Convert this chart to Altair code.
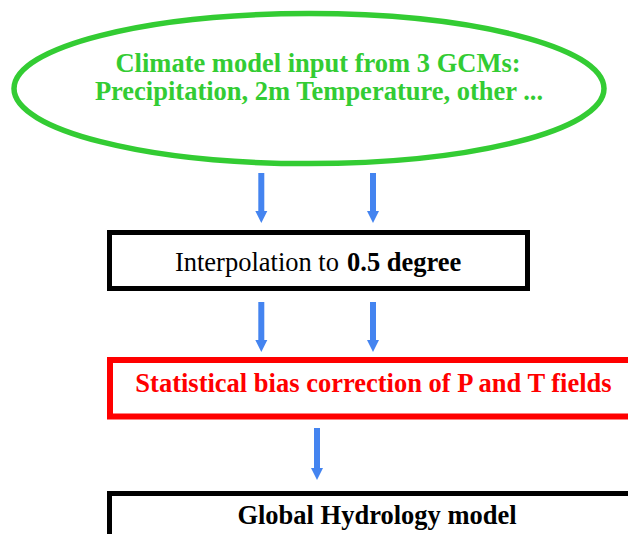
import altair as alt
import pandas as pd

# ---- canvas (page coordinates, the chart starts at the 8px page margin) ----
W, H = 620, 526
X0, Y0 = 8, 8

# ---- ellipse (input node) ----
ell_cx = [309]
ell_cy = [88.6]
ell_w = 590          # full width of the ellipse (centre line)
ell_ry_ratio = 0.2542  # ry / rx
ell_color = "#33CC33"

title_lines = ["Climate model input from 3 GCMs:", "Precipitation, 2m Temperature, other ..."]
title_x = [318, 319]
title_y = [72, 100]

# ---- boxes ----
box_x1 = [109.5, 110, 109.5]
box_x2 = [527.5, 680, 680]
box_y1 = [232.5, 360, 493.5]
box_y2 = [288.5, 416.5, 640]
box_color = ["black", "#FF0000", "black"]
box_sw = [5, 6, 5]

# ---- box texts ----
txt_plain = ["Interpolation to"]
txt_plain_x = [339]
txt_plain_y = [271]
txt_bold = ["0.5 degree", "Statistical bias correction of P and T fields", "Global Hydrology model"]
txt_bold_x = [347, 373.5, 377]
txt_bold_y = [271, 391.5, 524]
txt_bold_align = ["left", "center", "center"]
txt_bold_color = ["black", "#FF0000", "black"]

# ---- arrows ----
arrow_x = [261.3, 373, 261.3, 373, 317]
arrow_top = [173, 173, 302, 302, 428]
arrow_tip = [223, 223, 352, 352, 480]
arrow_color = "#4484F0"
head_len = 12

FONT = "Liberation Serif"
FS = 26.5

xs = alt.Scale(domain=[X0, X0 + W], range=[0, W])
ys = alt.Scale(domain=[Y0, Y0 + H], range=[0, H])


def X(f):
    return alt.X(f, type="quantitative", scale=xs, axis=None)


def Y(f):
    return alt.Y(f, type="quantitative", scale=ys, axis=None)


ell_df = pd.DataFrame({"x": ell_cx, "y": ell_cy})
k = 0.5523
r = ell_ry_ratio
kr = k * r
ell_path = (
    f"M-1,0 C-1,{-kr:.4f} {-k},{-r:.4f} 0,{-r:.4f} "
    f"C{k},{-r:.4f} 1,{-kr:.4f} 1,0 "
    f"C1,{kr:.4f} {k},{r:.4f} 0,{r:.4f} "
    f"C{-k},{r:.4f} -1,{kr:.4f} -1,0 Z"
)
ellipse = alt.Chart(ell_df).mark_point(
    shape=ell_path, size=ell_w ** 2, filled=False, stroke=ell_color,
    strokeWidth=5.5, opacity=1
).encode(x=X("x"), y=Y("y"))

title_df = pd.DataFrame({"t": title_lines, "x": title_x, "y": title_y})
title = alt.Chart(title_df).mark_text(
    font=FONT, fontSize=FS, fontWeight="bold", color=ell_color,
    align="center", baseline="alphabetic"
).encode(x=X("x"), y=Y("y"), text="t:N")

box_df = pd.DataFrame({"x1": box_x1, "x2": box_x2, "y1": box_y1, "y2": box_y2,
                       "c": box_color, "sw": box_sw})
boxes = alt.Chart(box_df).mark_rect(fill="white", clip=True).encode(
    x=X("x1"), x2="x2", y=Y("y1"), y2="y2",
    stroke=alt.Color("c:N", scale=None),
    strokeWidth=alt.StrokeWidth("sw:Q", scale=None),
)

plain_df = pd.DataFrame({"t": txt_plain, "x": txt_plain_x, "y": txt_plain_y})
plain = alt.Chart(plain_df).mark_text(
    font=FONT, fontSize=FS, fontWeight="normal", color="black",
    align="right", baseline="alphabetic"
).encode(x=X("x"), y=Y("y"), text="t:N")

bold_layers = []
for t, x, y, a, c in zip(txt_bold, txt_bold_x, txt_bold_y, txt_bold_align, txt_bold_color):
    d = pd.DataFrame({"t": [t], "x": [x], "y": [y]})
    bold_layers.append(
        alt.Chart(d).mark_text(
            font=FONT, fontSize=FS, fontWeight="bold", color=c,
            align=a, baseline="alphabetic"
        ).encode(x=X("x"), y=Y("y"), text="t:N")
    )

arr_df = pd.DataFrame({"x": arrow_x, "top": arrow_top, "tip": arrow_tip})
arr_df["shaft_end"] = arr_df["tip"] - head_len + 1
arr_df["head_c"] = arr_df["tip"] - head_len / 2
shafts = alt.Chart(arr_df).mark_rule(
    color=arrow_color, strokeWidth=6, strokeCap="butt"
).encode(x=X("x"), y=Y("top"), y2="shaft_end")
heads = alt.Chart(arr_df).mark_point(
    shape="M-1,-1 L1,-1 L0,1 Z", size=head_len ** 2, filled=True,
    fill=arrow_color, color=arrow_color, strokeWidth=0, opacity=1
).encode(x=X("x"), y=Y("head_c"))

chart = alt.layer(
    boxes, ellipse, title, plain, *bold_layers, shafts, heads
).properties(
    width=W, height=H, padding=0, autosize=alt.AutoSizeParams(type="none"),
    background="white"
).configure_view(stroke=None)

chart.save("out.html", embed_options={"renderer": "svg", "actions": False})
